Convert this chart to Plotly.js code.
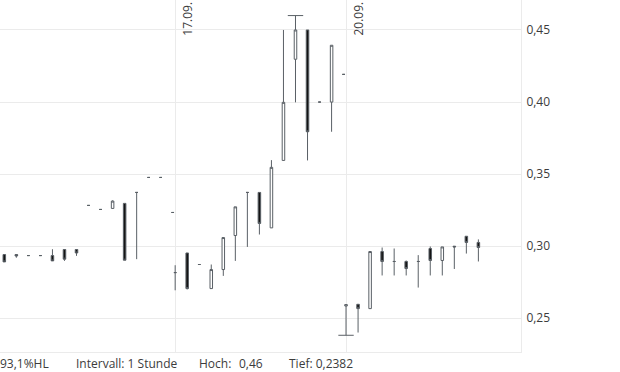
<!DOCTYPE html>
<html>
<head>
<meta charset="utf-8">
<script src="https://cdn.plot.ly/plotly-3.0.1.min.js"></script>
<style>
  html, body { margin: 0; padding: 0; background: #ffffff; }
  #chart { width: 620px; height: 372px; }
</style>
</head>
<body>
<div id="chart"></div>
<script>
// Hourly candles (Intervall: 1 Stunde)
const times = [
  '2021-09-16 08:00', '2021-09-16 09:00', '2021-09-16 10:00', '2021-09-16 11:00', '2021-09-16 12:00',
  '2021-09-16 13:00', '2021-09-16 14:00', '2021-09-16 15:00', '2021-09-16 16:00', '2021-09-16 17:00',
  '2021-09-16 18:00', '2021-09-16 19:00', '2021-09-16 20:00', '2021-09-16 21:00', '2021-09-16 22:00',
  '2021-09-17 08:00', '2021-09-17 09:00', '2021-09-17 10:00', '2021-09-17 11:00', '2021-09-17 12:00',
  '2021-09-17 13:00', '2021-09-17 14:00', '2021-09-17 15:00', '2021-09-17 16:00', '2021-09-17 17:00',
  '2021-09-17 18:00', '2021-09-17 19:00', '2021-09-17 20:00', '2021-09-17 21:00', '2021-09-17 22:00',
  '2021-09-20 08:00', '2021-09-20 09:00', '2021-09-20 10:00', '2021-09-20 11:00', '2021-09-20 12:00',
  '2021-09-20 13:00', '2021-09-20 14:00', '2021-09-20 15:00', '2021-09-20 16:00', '2021-09-20 17:00',
  '2021-09-20 18:00', '2021-09-20 19:00'
];
const openVals = [
  0.2942, 0.2942, 0.2935, 0.2935, 0.2935, 0.2977, 0.2977, 0.3283, 0.3255, 0.3262, 0.3297, 0.3373, 0.3477, 0.3477, 0.3234,
  0.2817, 0.2953, 0.2873, 0.2706, 0.2838, 0.3074, 0.3373, 0.3373, 0.3127, 0.3595, 0.4297, 0.4500, 0.4000, 0.4000, 0.4192,
  0.2585, 0.2597, 0.2567, 0.2963, 0.2894, 0.2894, 0.2894, 0.2984, 0.2901, 0.3000, 0.3069, 0.3026
];
const highVals = [
  0.2942, 0.2942, 0.2935, 0.2935, 0.2979, 0.2977, 0.2977, 0.3283, 0.3255, 0.3318, 0.3297, 0.3373, 0.3477, 0.3477, 0.3234,
  0.2868, 0.2953, 0.2873, 0.2873, 0.3060, 0.3273, 0.3373, 0.3373, 0.3597, 0.4500, 0.4600, 0.4500, 0.4000, 0.4394, 0.4192,
  0.2595, 0.2597, 0.2963, 0.2991, 0.2984, 0.2901, 0.2938, 0.2998, 0.2995, 0.3000, 0.3069, 0.3047
];
const lowVals = [
  0.2891, 0.2920, 0.2935, 0.2935, 0.2898, 0.2898, 0.2933, 0.3283, 0.3255, 0.3262, 0.2903, 0.2910, 0.3477, 0.3477, 0.3234,
  0.2694, 0.2700, 0.2873, 0.2706, 0.2794, 0.2898, 0.2995, 0.3081, 0.3127, 0.3595, 0.3998, 0.3595, 0.4000, 0.3794, 0.4192,
  0.2382, 0.2401, 0.2567, 0.2797, 0.2797, 0.2797, 0.2713, 0.2797, 0.2797, 0.2842, 0.2949, 0.2894
];
const closeVals = [
  0.2891, 0.2932, 0.2935, 0.2935, 0.2898, 0.2910, 0.2953, 0.3283, 0.3255, 0.3313, 0.2903, 0.3373, 0.3477, 0.3477, 0.3234,
  0.2817, 0.2706, 0.2873, 0.2838, 0.3060, 0.3273, 0.3373, 0.3158, 0.3547, 0.3998, 0.4500, 0.3794, 0.4000, 0.4394, 0.4192,
  0.2595, 0.2567, 0.2963, 0.2894, 0.2894, 0.2845, 0.2894, 0.2901, 0.2995, 0.2995, 0.3026, 0.2991
];
// Day separators (tick values / labels)
const dayTicks = ['2021-09-17 08:00', '2021-09-20 08:00'];
const dayLabels = ['17.09.', '20.09.'];
const yTicks = [0.25, 0.30, 0.35, 0.40, 0.45];
const intervalLabel = 'Intervall: 1 Stunde';

// derived extremes
let hiIdx = 0, loIdx = 0;
for (let i = 0; i < highVals.length; i++) {
  if (highVals[i] > highVals[hiIdx]) hiIdx = i;
  if (lowVals[i] < lowVals[loIdx]) loIdx = i;
}
const hi = highVals[hiIdx], lo = lowVals[loIdx];
const de = s => String(s).replace('.', ',');
const pctHL = de(((hi - lo) / lo * 100).toFixed(1)) + '%HL';

const wickColor = '#5a6066';
const textColor = '#3c3c3c';
const gridColor = '#ebebeb';
const fontFam = '"Open Sans", "Noto Sans", sans-serif';

const candles = {
  type: 'candlestick',
  x: times, open: openVals, high: highVals, low: lowVals, close: closeVals,
  whiskerwidth: 0,
  increasing: { line: { color: wickColor, width: 1 }, fillcolor: '#ffffff' },
  decreasing: { line: { color: wickColor, width: 1 }, fillcolor: '#141414' },
  hoverinfo: 'skip'
};
const extremes = {
  type: 'scatter', mode: 'markers',
  x: [times[hiIdx], times[loIdx]], y: [hi, lo],
  marker: { symbol: 'line-ew', size: 11, line: { color: wickColor, width: 1 } },
  hoverinfo: 'skip'
};

const plotW = 521;
const bottomY = -0.034;
const annotations = dayTicks.map((t, i) => ({
  x: t, xref: 'x', y: 1, yref: 'paper', xanchor: 'left', yanchor: 'top',
  text: dayLabels[i], textangle: -90, showarrow: false, xshift: 1,
  font: { family: fontFam, size: 12, color: textColor }
})).concat([
  { text: pctHL, x: -2 / plotW, xanchor: 'left' },
  { text: intervalLabel, x: 74 / plotW, xanchor: 'left' },
  { text: 'Hoch:', x: 197 / plotW, xanchor: 'left' },
  { text: de(hi), x: 237 / plotW, xanchor: 'left' },
  { text: 'Tief: ' + de(lo), x: 287 / plotW, xanchor: 'left' }
].map(a => Object.assign(a, {
  xref: 'paper', yref: 'paper', y: bottomY, yanchor: 'middle', showarrow: false,
  font: { family: fontFam, size: 12, color: textColor }
})));

const layout = {
  width: 620, height: 372,
  margin: { l: 0, r: 99, t: 0, b: 20, pad: 0 },
  paper_bgcolor: '#ffffff', plot_bgcolor: '#ffffff',
  separators: ',.',
  showlegend: false,
  boxgap: 0.7, boxgroupgap: 0.3,
  font: { family: fontFam, size: 12, color: textColor },
  xaxis: {
    type: 'date',
    range: ['2021-09-15 21:50:30', '2021-09-21 08:20:30'],
    rangebreaks: [
      { bounds: ['sat', 'mon'] },
      { pattern: 'hour', bounds: [22.1, 7.9] }
    ],
    rangeslider: { visible: false },
    tickmode: 'array', tickvals: dayTicks, showticklabels: false,
    showgrid: true, gridcolor: gridColor, gridwidth: 1,
    showline: true, linecolor: gridColor, linewidth: 1,
    zeroline: false, ticks: '', fixedrange: true
  },
  yaxis: {
    side: 'right',
    range: [0.2266, 0.4708],
    tickmode: 'array', tickvals: yTicks, tickformat: '.2f',
    showgrid: true, gridcolor: gridColor, gridwidth: 1,
    showline: true, linecolor: gridColor, linewidth: 1,
    zeroline: false, ticks: '', ticklabelstandoff: 2,
    tickfont: { family: fontFam, size: 12, color: textColor },
    fixedrange: true
  },
  annotations: annotations
};

Plotly.newPlot('chart', [candles, extremes], layout, { displayModeBar: false, staticPlot: true });
</script>
</body>
</html>
